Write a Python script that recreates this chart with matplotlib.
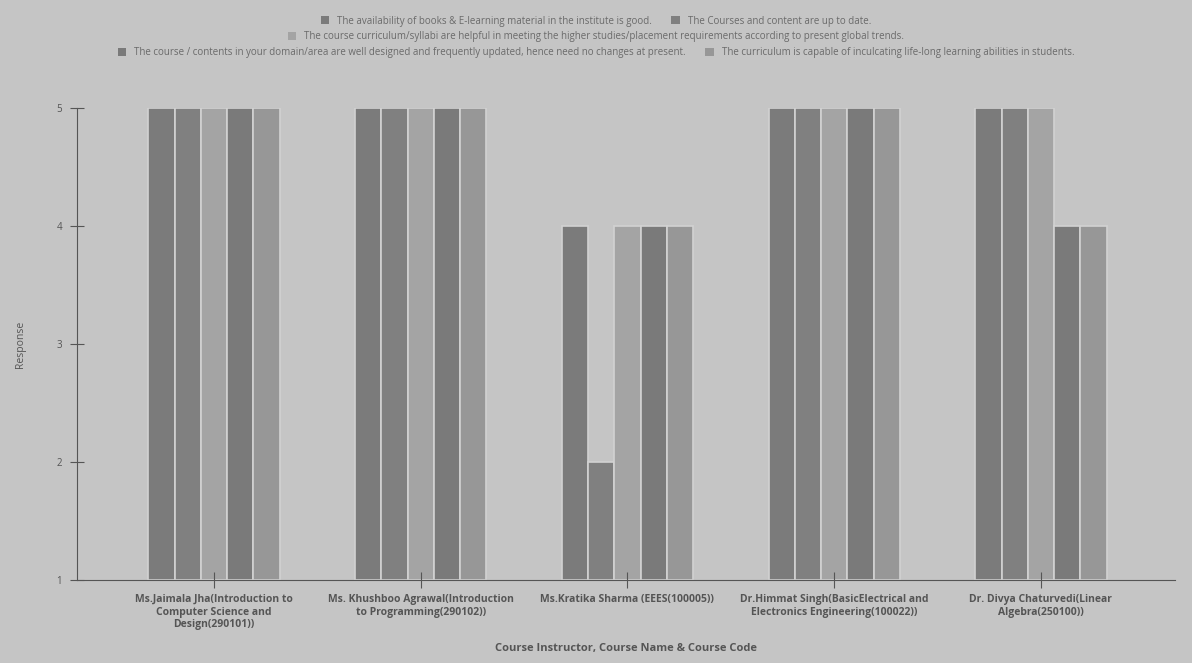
import numpy as np
import matplotlib.pyplot as plt
from matplotlib.patches import Patch

plt.rcParams['font.family'] = ['Open Sans', 'DejaVu Sans']

courses = ["Ms.Jaimala Jha(Introduction to\nComputer Science and\nDesign(290101))",
           "Ms. Khushboo Agrawal(Introduction\nto Programming(290102))",
           "Ms.Kratika Sharma (EEES(100005))",
           "Dr.Himmat Singh(BasicElectrical and\nElectronics Engineering(100022))",
           "Dr. Divya Chaturvedi(Linear\nAlgebra(250100))"]

q_books = [5, 5, 4, 5, 5]
q_uptodate = [5, 5, 2, 5, 5]
q_helpful = [5, 5, 4, 5, 5]
q_designed = [5, 5, 4, 5, 4]
q_lifelong = [5, 5, 4, 5, 4]

labels = ["The availability of books & E-learning material in the institute is good.",
          "The Courses and content are up to date.",
          "The course curriculum/syllabi are helpful in meeting the higher studies/placement requirements according to present global trends.",
          "The course / contents in your domain/area are well designed and frequently updated, hence need no changes at present.",
          "The curriculum is capable of inculcating life-long learning abilities in students."]

series = [q_books, q_uptodate, q_helpful, q_designed, q_lifelong]
colors = ['#7b7b7b', '#808080', '#a4a4a4', '#7a7a7a', '#979797']
bg = '#c5c5c5'

fig = plt.figure(figsize=(11.92, 6.63), dpi=100, facecolor=bg)
ax = fig.add_axes([0.065, 0.125, 0.921, 0.712], facecolor=bg)

x = np.arange(len(courses))
w = 0.127
for i, (vals, c) in enumerate(zip(series, colors)):
    ax.bar(x + (i - 2) * w, np.array(vals) - 1, w, bottom=1, color=c,
           edgecolor='#d2d2d2', linewidth=1.2)

ax.set_xlim(-0.66, 4.65)
ax.set_ylim(1, 5)
ax.set_yticks([1, 2, 3, 4, 5])
ax.set_xticks(x)
ax.set_xticklabels(courses, fontsize=7.5, fontweight='bold', color='#555555')
ax.tick_params(axis='y', direction='inout', length=10, labelsize=7, colors='#555555', pad=6)
ax.tick_params(axis='x', direction='inout', length=12, colors='#555555', pad=4)
for s in ['top', 'right']:
    ax.spines[s].set_visible(False)
for s in ['left', 'bottom']:
    ax.spines[s].set_color('#555555')

ax.set_ylabel('Response', fontsize=7.5, color='#555555', labelpad=22)
ax.set_xlabel('Course Instructor, Course Name & Course Code', fontsize=8, fontweight='bold',
              color='#555555', labelpad=9)

# legend wraps over three centred rows
handles = [Patch(facecolor=c, edgecolor='none') for c in colors]
rows = [([0, 1], 0.5, 0.985), ([2], 0.5, 0.962), ([3, 4], 0.5, 0.938)]
for idx, cx, y in rows:
    fig.legend([handles[k] for k in idx], [labels[k] for k in idx], loc='upper center',
               bbox_to_anchor=(cx, y), ncol=len(idx), frameon=False, fontsize=7,
               handlelength=0.9, handleheight=0.9, columnspacing=2.0,
               labelcolor='#6a6a6a', borderpad=0.1)

fig.savefig('out.png', dpi=100, facecolor=bg)
